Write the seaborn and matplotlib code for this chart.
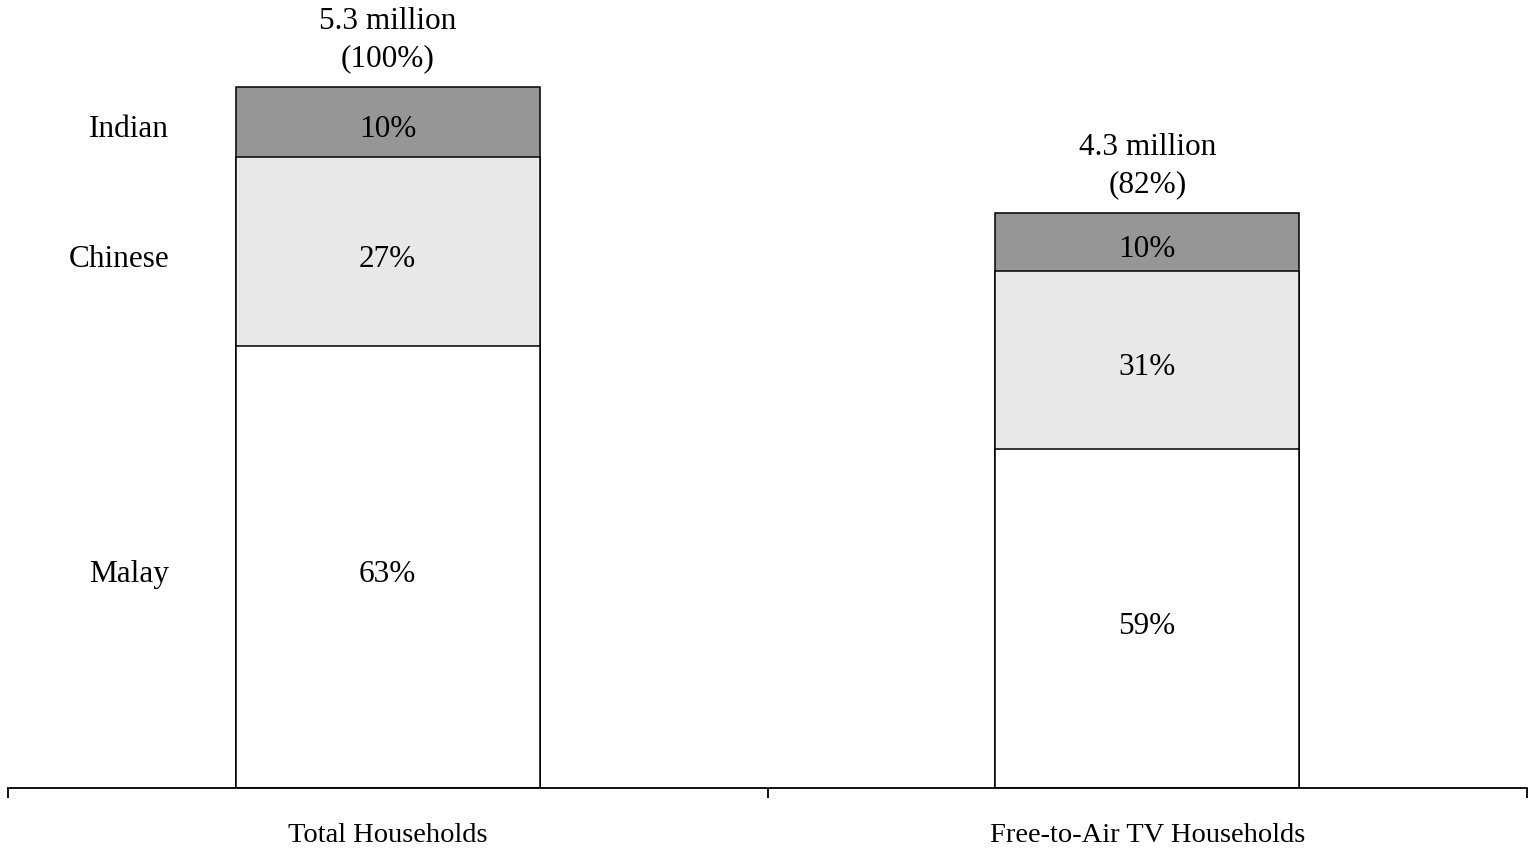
import matplotlib
matplotlib.use("Agg")
import matplotlib.pyplot as plt
import seaborn as sns
import numpy as np
import pandas as pd

# Household composition by ethnic group
categories = ["Total Households", "Free-to-Air TV Households"]
total_share = [100, 82]                      # % of all households
total_labels = ["5.3 million", "4.3 million"]
groups = ["Malay", "Chinese", "Indian"]
malay = [63, 59]                             # % within each bar
chinese = [27, 31]
indian = [10, 10]

colors = {"Malay": "#ffffff", "Chinese": "#e8e8e8", "Indian": "#969696"}

sns.set_theme(style="white")
plt.rcParams["font.family"] = ["Liberation Serif", "DejaVu Serif"]
plt.rcParams["text.color"] = "black"
plt.rcParams["xtick.color"] = "black"
plt.rcParams["xtick.labelcolor"] = "black"

fig = plt.figure(figsize=(15.32, 8.5), dpi=100)
ax = fig.add_axes([8 / 1532, 62 / 850, 1519 / 1532, 788 / 850])

shares = {"Malay": malay, "Chinese": chinese, "Indian": indian}
# segment heights on the common scale (share of bar x bar total)
heights = {g: np.array(shares[g]) * np.array(total_share) / 100.0 for g in groups}
bottoms = {}
running = np.zeros(len(categories))
for g in groups:
    bottoms[g] = running.copy()
    running = running + heights[g]

# stacked bars: draw cumulative heights from the top segment down
for g in reversed(groups):
    df = pd.DataFrame({"category": categories, "value": bottoms[g] + heights[g]})
    sns.barplot(data=df, x="category", y="value", color=colors[g], saturation=1,
                edgecolor="black", linewidth=1.1, width=0.4, ax=ax)

ax.set_xlim(-0.5, 1.5)
ax.set_ylim(0, 112.4)
ax.set_xlabel("")
ax.set_ylabel("")

# segment value labels
for g in groups:
    for i in range(len(categories)):
        ax.annotate(f"{shares[g][i]}%",
                    xy=(i, bottoms[g][i] + heights[g][i] / 2),
                    xytext=(0, -3), textcoords="offset points",
                    ha="center", va="center_baseline", fontsize=22.5, color="black")

# bar totals above each bar
for i in range(len(categories)):
    ax.annotate(f"{total_labels[i]}\n({total_share[i]}%)",
                xy=(i, total_share[i]), xytext=(0, 10), textcoords="offset points",
                ha="center", va="bottom", fontsize=22.5, linespacing=1.38,
                color="black", annotation_clip=False)

# group names beside the first bar
for g in groups:
    ax.annotate(g, xy=(-0.2, bottoms[g][0] + heights[g][0] / 2),
                xytext=(-48, -3), textcoords="offset points",
                ha="right", va="center_baseline", fontsize=22.5, color="black")

# axes styling
for s in ["top", "left", "right"]:
    ax.spines[s].set_visible(False)
ax.spines["bottom"].set_color("black")
ax.spines["bottom"].set_linewidth(1.3)
ax.set_yticks([])
ax.set_xticks([0, 1])
ax.set_xticklabels(categories, fontsize=20.5)
ax.tick_params(axis="x", which="major", length=0, pad=25)
ax.set_xticks([-0.5, 0.5, 1.5], minor=True)
ax.tick_params(axis="x", which="minor", length=7.5, width=1.3, color="black",
               direction="out", bottom=True)

fig.savefig("out.png", dpi=100, facecolor="white")
